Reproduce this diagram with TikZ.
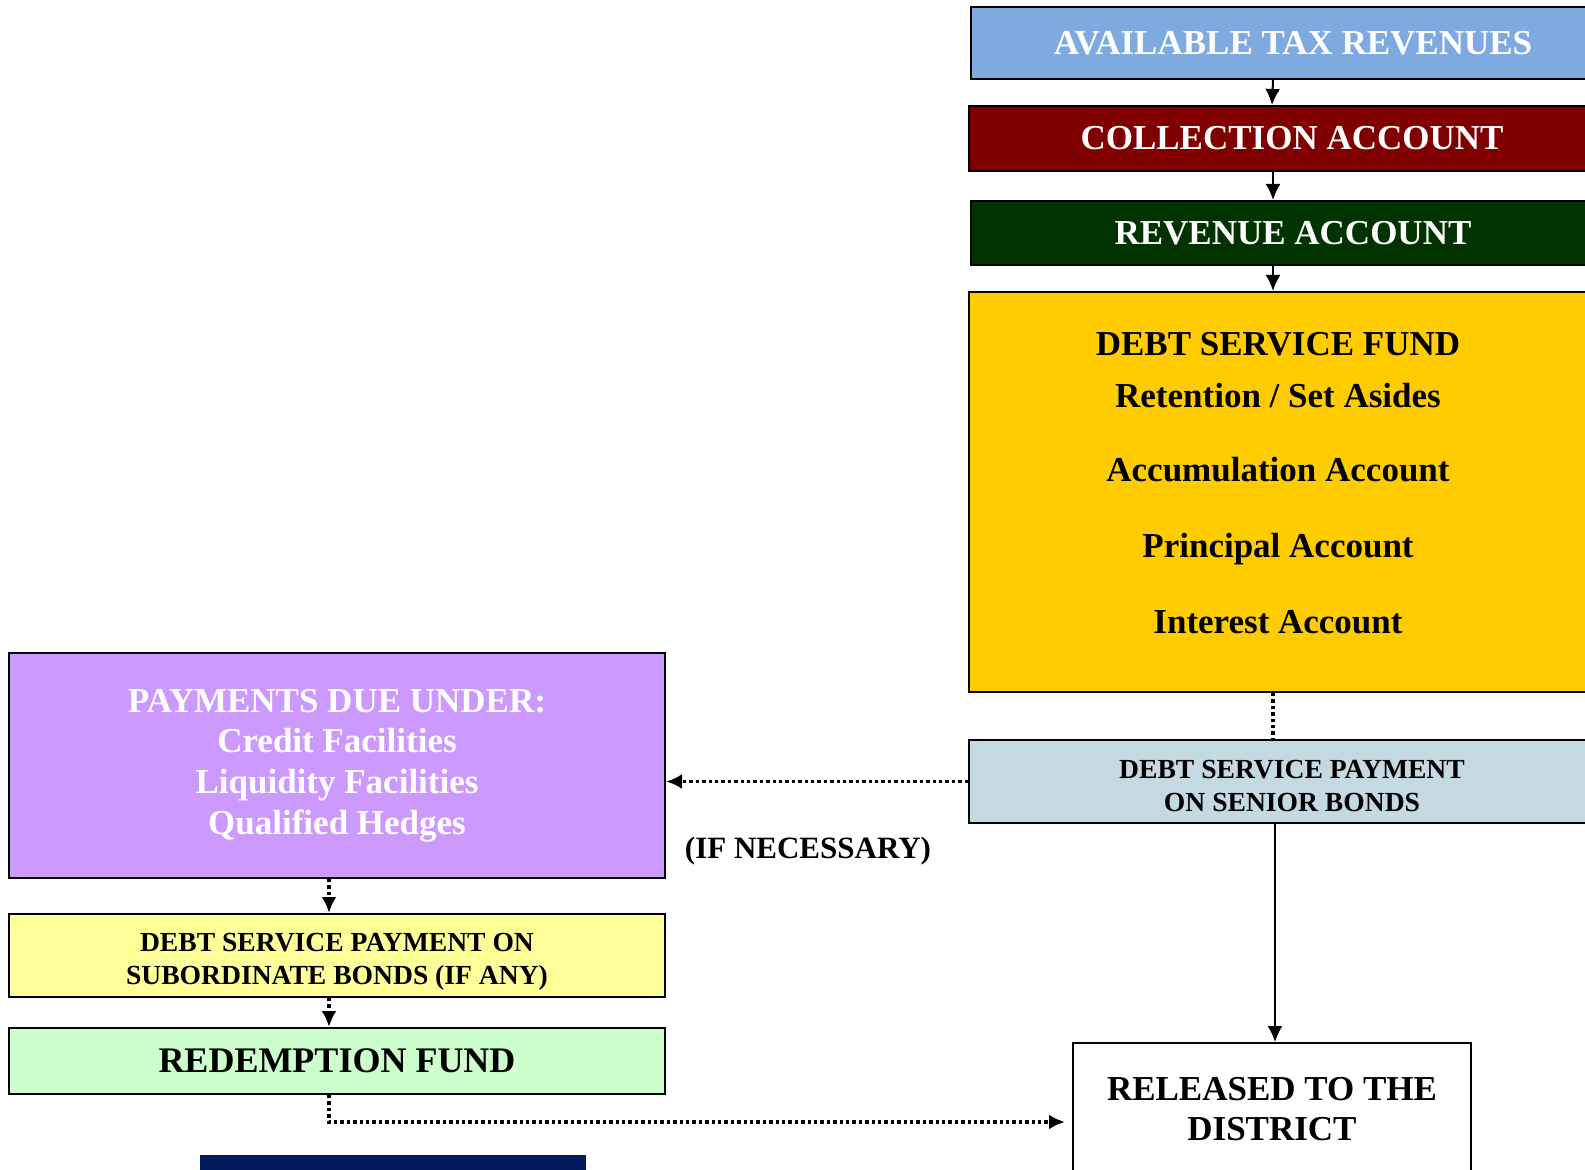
\documentclass[tikz,border=0pt]{standalone}
\usepackage{fontspec}
\setmainfont{Liberation Serif}
\usetikzlibrary{arrows.meta,positioning}
\definecolor{taxblue}{HTML}{7FAAE0}
\definecolor{collred}{HTML}{800000}
\definecolor{revgreen}{HTML}{003300}
\definecolor{fundyellow}{HTML}{FFCC00}
\definecolor{seniorblue}{HTML}{C5D9E2}
\definecolor{paypurple}{HTML}{CC99FF}
\definecolor{subyellow}{HTML}{FFFF99}
\definecolor{redgreen}{HTML}{CCFFCC}
\definecolor{navybar}{HTML}{001B5C}
\tikzstyle{account}=[draw=black,line width=1pt,inner sep=0pt,align=center,font=\bfseries\fontsize{17.5}{20.4}\selectfont]
\tikzstyle{small account}=[account,font=\bfseries\fontsize{13.8}{16.5}\selectfont]
\tikzstyle{flow}=[draw,line width=1pt,-{Latex[length=8pt,width=7.5pt]}]
\tikzstyle{dotted line}=[draw,line width=1.7pt,dash pattern=on 1.7pt off 1.5pt]
\tikzstyle{dotted flow}=[dotted line,-{Latex[length=8pt,width=7.5pt]}]

\begin{document}
\begin{tikzpicture}[x=0.5pt,y=-0.5pt]
    \useasboundingbox (0,0) rectangle (1585,1170);
    \clip (0,0) rectangle (1585,1170);
    % Right column: the accounts the revenues pass through
    \node[account, fill=taxblue, text=white, minimum width=322pt, minimum height=36pt] (atr) at (1293,43) {AVAILABLE TAX REVENUES};
    \node[account, fill=collred, text=white, minimum width=323pt, minimum height=32.5pt] (coll) at (1292,138.5) {COLLECTION ACCOUNT};
    \node[account, fill=revgreen, text=white, minimum width=322pt, minimum height=32pt] (rev) at (1293,233) {REVENUE ACCOUNT};
    \node[account, fill=fundyellow, minimum width=323pt, minimum height=200pt] (dsf) at (1292,492) {};
    \node[account, draw=none] (dsftxt) at (1278,483) {DEBT SERVICE FUND\\[5.6pt]Retention / Set Asides\\[16.6pt]Accumulation Account\\[17.6pt]Principal Account\\[17.6pt]Interest Account};
    \node[small account, fill=seniorblue, minimum width=323pt, minimum height=41.5pt] (senior) at (1292,781.5) {\rule{0pt}{14pt}DEBT SERVICE PAYMENT\\ON SENIOR BONDS};
    \node[account, fill=white, minimum width=199pt, minimum height=79pt] (rel) at (1272,1122) {};
    \node[account, draw=none, below=17pt of rel.north] (reltxt) {RELEASED TO THE\\DISTRICT};

    % Left column: the other funds
    \node[account, fill=paypurple, text=white, minimum width=328pt, minimum height=112.5pt] (pay) at (337,765.5) {PAYMENTS DUE UNDER:\\Credit Facilities\\Liquidity Facilities\\Qualified Hedges};
    \node[small account, fill=subyellow, minimum width=328pt, minimum height=41.5pt] (sub) at (337,955.5) {\rule{0pt}{15pt}DEBT SERVICE PAYMENT ON\\SUBORDINATE BONDS (IF ANY)};
    \node[account, fill=redgreen, font=\bfseries\fontsize{18}{21}\selectfont, minimum width=328pt, minimum height=33pt] (red) at (337,1061) {REDEMPTION FUND};
    \node[font=\bfseries\fontsize{15.5}{18}\selectfont] (ifnec) at (808,851) {(IF NECESSARY)};
    \fill[navybar] (200,1155) rectangle (586,1200);

    % Connect the accounts
    \draw[flow] ([xshift=-10pt]atr.south) -- ([xshift=-10pt]coll.north);
    \draw[flow] ([xshift=-9.5pt]coll.south) -- ([xshift=-9.5pt]coll.south |- rev.north);
    \draw[flow] ([xshift=-10pt]rev.south) -- ([xshift=-10pt]rev.south |- dsf.north);
    \draw[dotted line] ([xshift=-9.5pt]dsf.south) -- ([xshift=-9.5pt]senior.north);
    \draw[dotted flow] (senior.west) -- (senior.west -| pay.east);
    \draw[flow] ([xshift=1.5pt]senior.south -| rel.north) -- ([xshift=1.5pt]rel.north);
    \draw[dotted flow] ([xshift=-4pt]pay.south) -- ([xshift=-4pt]sub.north);
    \draw[dotted flow] ([xshift=-4pt]sub.south) -- ([xshift=-4pt]red.north);
    \draw[dotted flow, shorten >=3.5pt] ([xshift=-4pt]red.south) |- (rel.west);
\end{tikzpicture}
\end{document}
